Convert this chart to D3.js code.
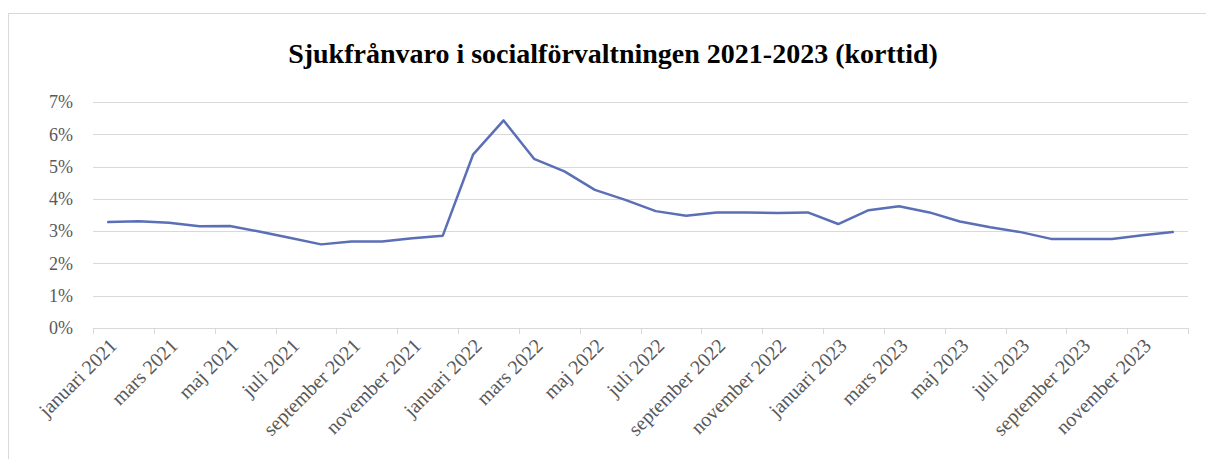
<!DOCTYPE html>
<html>
<head>
<meta charset="utf-8">
<script src="https://cdn.jsdelivr.net/npm/d3@7"></script>
<style>
  body { margin: 0; background: #fff; }
  text { font-family: "Liberation Serif", "DejaVu Serif", serif; }
</style>
</head>
<body>
<div id="my_dataviz"></div>
<script>
// data
var monthNames = ["januari", "februari", "mars", "april", "maj", "juni",
  "juli", "augusti", "september", "oktober", "november", "december"];
var years = [2021, 2022, 2023];
var sick2021 = [3.28, 3.31, 3.26, 3.15, 3.16, 2.98, 2.79, 2.59, 2.68, 2.68, 2.78, 2.86];
var sick2022 = [5.38, 6.43, 5.24, 4.85, 4.28, 3.97, 3.62, 3.48, 3.58, 3.58, 3.56, 3.58];
var sick2023 = [3.22, 3.65, 3.77, 3.58, 3.30, 3.12, 2.97, 2.76, 2.76, 2.76, 2.87, 2.97];
var yTicks = [0, 1, 2, 3, 4, 5, 6, 7];

var data = [];
[sick2021, sick2022, sick2023].forEach(function(arr, i) {
  arr.forEach(function(v, m) {
    data.push({ label: monthNames[m] + " " + years[i], value: v });
  });
});

// set the dimensions and margins of the graph
var W = 1206, H = 459;
var margin = {top: 102, right: 18, bottom: 131, left: 93},
    width = W - margin.left - margin.right,
    height = H - margin.top - margin.bottom;

var root = d3.select("#my_dataviz")
  .append("svg")
    .attr("width", W)
    .attr("height", H);

// chart border
root.append("rect")
  .attr("x", 8.5).attr("y", 13.5)
  .attr("width", W).attr("height", H)
  .style("fill", "none")
  .style("stroke", "#d9d9d9")
  .style("stroke-width", 1);

// title
root.append("text")
  .attr("x", 613)
  .attr("y", 63)
  .style("text-anchor", "middle")
  .style("font-size", "28px")
  .style("font-weight", "bold")
  .style("fill", "#000")
  .text("Sjukfrånvaro i socialförvaltningen 2021-2023 (korttid)");

var svg = root.append("g")
  .attr("transform", "translate(" + margin.left + "," + margin.top + ")");

var x = d3.scaleBand()
  .domain(data.map(function(d) { return d.label; }))
  .range([0, width]);

var y = d3.scaleLinear()
  .domain([0, 7])
  .range([height, 0]);

// gridlines
svg.append("g")
  .selectAll("line")
  .data(yTicks)
  .enter()
  .append("line")
    .attr("x1", 0)
    .attr("x2", width)
    .attr("y1", function(d) { return Math.round(y(d)) + 0.5; })
    .attr("y2", function(d) { return Math.round(y(d)) + 0.5; })
    .style("stroke", "#d9d9d9")
    .style("stroke-width", 1);

// y labels
svg.append("g")
  .selectAll("text")
  .data(yTicks)
  .enter()
  .append("text")
    .attr("x", -20)
    .attr("y", function(d) { return y(d); })
    .attr("dy", "0.35em")
    .style("text-anchor", "end")
    .style("font-size", "18px")
    .style("fill", "#595959")
    .text(function(d) { return d + "%"; });

// x tick marks, every second month
var tickIdx = d3.range(0, data.length + 1, 2);
svg.append("g")
  .selectAll("line")
  .data(tickIdx)
  .enter()
  .append("line")
    .attr("x1", function(i) { return Math.round(x.step() * i) + 0.5; })
    .attr("x2", function(i) { return Math.round(x.step() * i) + 0.5; })
    .attr("y1", height)
    .attr("y2", height + 6)
    .style("stroke", "#d9d9d9")
    .style("stroke-width", 1);

// x labels
svg.append("g")
  .selectAll("text")
  .data(data.filter(function(d, i) { return i % 2 === 0; }))
  .enter()
  .append("text")
    .attr("transform", function(d) {
      return "translate(" + (x(d.label) + x.bandwidth() / 2 + 5) + "," + (height + 14) + ") rotate(-45)";
    })
    .attr("dy", "0.35em")
    .style("text-anchor", "end")
    .style("font-size", "20px")
    .style("fill", "#595959")
    .text(function(d) { return d.label; });

// the line
svg.append("path")
  .datum(data)
  .attr("d", d3.line()
    .x(function(d) { return x(d.label) + x.bandwidth() / 2; })
    .y(function(d) { return y(d.value); })
  )
  .style("fill", "none")
  .style("stroke", "#5a6fb6")
  .style("stroke-width", 2.5)
  .style("stroke-linejoin", "round")
  .style("stroke-linecap", "round");
</script>
</body>
</html>
